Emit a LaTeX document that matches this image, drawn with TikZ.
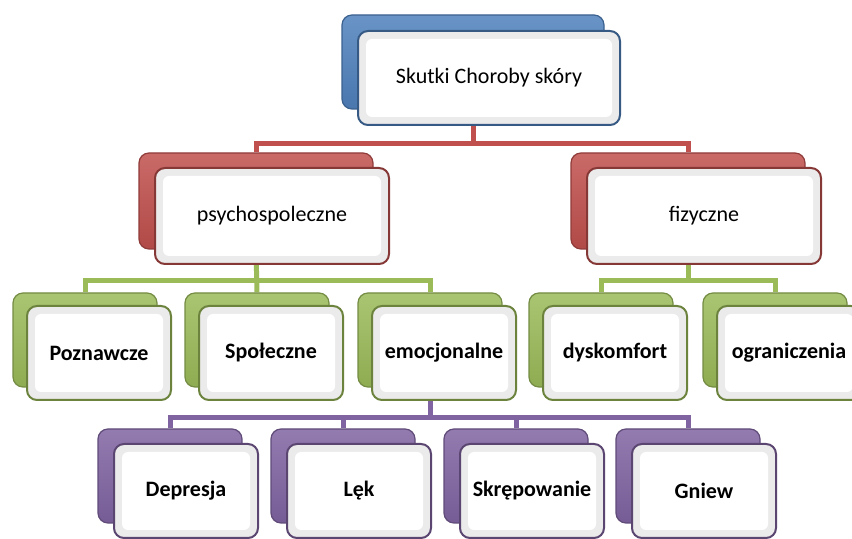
\documentclass[tikz,border=0pt]{standalone}
\usepackage{fontspec}
\setmainfont{Carlito}
\usetikzlibrary{backgrounds}

\definecolor{hblue}{HTML}{4F81BD}
\definecolor{hred}{HTML}{C0504D}
\definecolor{hgreen}{HTML}{9BBB59}
\definecolor{hviolet}{HTML}{8064A2}

\begin{document}
\begin{tikzpicture}[x=0.5pt,y=-0.5pt,
	backbox/.style={draw=#1!75!black,line width=0.6pt,rounded corners=5pt,top color=#1!85!white,bottom color=#1!92!black,inner sep=0pt},
	frontbox/.style={draw=#1!70!black,line width=1pt,rounded corners=5pt,fill=gray!16,inner sep=0pt,
		path picture={\fill[white,rounded corners=3pt] ([shift={(4pt,-4pt)}]path picture bounding box.north west) rectangle ([shift={(-4pt,4pt)}]path picture bounding box.south east);}},
	lvlone/.style={minimum width=131pt,minimum height=47pt,font=\fontsize{11}{13}\selectfont},
	lvltwo/.style={minimum width=117pt,minimum height=48pt,font=\fontsize{11}{13}\selectfont},
	lvlthree/.style={minimum width=72pt,minimum height=47pt,font=\fontsize{11}{13}\selectfont\bfseries},
	link/.style={line width=2.5pt,draw=#1}]
		\useasboundingbox (0,0) rectangle (852,539);

		% level 1
		\node[backbox=hblue,lvlone] (rootB) at (473,62){};
		\node[frontbox=hblue,lvlone] (root) at (489,78){Skutki Choroby skóry};

		% level 2
		\node[backbox=hred,lvltwo] (psychB) at (256,201){};
		\node[frontbox=hred,lvltwo] (psych) at (272,216){psychospoleczne};
		\node[backbox=hred,lvltwo] (fizB) at (688,201){};
		\node[frontbox=hred,lvltwo] (fiz) at (704,216){fizyczne};

		% level 3
		\node[backbox=hgreen,lvlthree] (poznB) at (85,340){};
		\node[frontbox=hgreen,lvlthree] (pozn) at (99,353){Poznawcze};
		\node[backbox=hgreen,lvlthree] (spolB) at (257,340){};
		\node[frontbox=hgreen,lvlthree] (spol) at (271,353){Społeczne};
		\node[backbox=hgreen,lvlthree] (emoB) at (430,340){};
		\node[frontbox=hgreen,lvlthree] (emo) at (444,353){emocjonalne};
		\node[backbox=hgreen,lvlthree] (dyskB) at (601,340){};
		\node[frontbox=hgreen,lvlthree] (dysk) at (615,353){dyskomfort};
		\node[backbox=hgreen,lvlthree] (ograB) at (775,340){};
		\node[frontbox=hgreen,lvlthree] (ogra) at (789,353){ograniczenia};

		% level 4
		\node[backbox=hviolet,lvlthree] (deprB) at (170,476){};
		\node[frontbox=hviolet,lvlthree] (depr) at (186,491){Depresja};
		\node[backbox=hviolet,lvlthree] (lekB) at (343,476){};
		\node[frontbox=hviolet,lvlthree] (lek) at (359,491){Lęk};
		\node[backbox=hviolet,lvlthree] (skrB) at (516,476){};
		\node[frontbox=hviolet,lvlthree] (skr) at (532,491){Skrępowanie};
		\node[backbox=hviolet,lvlthree] (gniewB) at (688,476){};
		\node[frontbox=hviolet,lvlthree] (gniew) at (704,491){Gniew};

		\begin{scope}[on background layer]
		\draw[link=hred] (rootB.south) -- ++(0,34) -| (psychB.north);
		\draw[link=hred] (rootB.south) -- ++(0,34) -| (fizB.north);

		\draw[link=hgreen] (psychB.south) -- ++(0,31) -| (poznB.north);
		\draw[link=hgreen] (psychB.south) -- (spolB.north);
		\draw[link=hgreen] (psychB.south) -- ++(0,31) -| (emoB.north);
		\draw[link=hgreen] (fizB.south) -- ++(0,31) -| (dyskB.north);
		\draw[link=hgreen] (fizB.south) -- ++(0,31) -| (ograB.north);

		\draw[link=hviolet] (emoB.south) -- ++(0,30) -| (deprB.north);
		\draw[link=hviolet] (emoB.south) -- ++(0,30) -| (lekB.north);
		\draw[link=hviolet] (emoB.south) -- ++(0,30) -| (skrB.north);
		\draw[link=hviolet] (emoB.south) -- ++(0,30) -| (gniewB.north);
		\end{scope}

	\end{tikzpicture}
\end{document}
